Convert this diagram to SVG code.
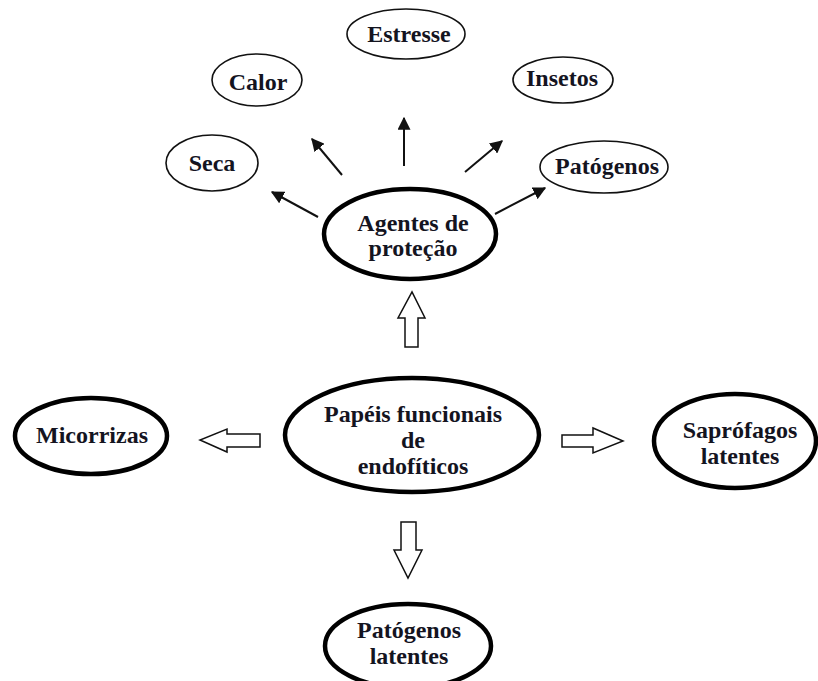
<svg xmlns="http://www.w3.org/2000/svg" width="818" height="681" viewBox="0 0 818 681">
  <style>
    .t { font-family: "Liberation Serif", "DejaVu Serif", serif; font-weight: 700; font-size: 24px; fill: #14141f; text-anchor: middle; }
    .thin { fill: #fff; stroke: #111; stroke-width: 1.6; }
    .thick { fill: #fff; stroke: #000; stroke-width: 4.5; }
    .ln { stroke: #111; stroke-width: 2; fill: none; marker-end: url(#ah); }
    .hollow { fill: #fff; stroke: #111; stroke-width: 1.5; stroke-linejoin: miter; }
  </style>
  <defs>
    <marker id="ah" viewBox="0 0 10 10" refX="9" refY="5" markerWidth="6.5" markerHeight="6.5" orient="auto" markerUnits="strokeWidth">
      <path d="M0,0 L10,5 L0,10 z" fill="#111"/>
    </marker>
  </defs>
  <rect width="818" height="681" fill="#fff"/>

  <g id="connectors">
    <line class="ln" x1="318" y1="217" x2="272" y2="192"/>
    <line class="ln" x1="342" y1="175" x2="312" y2="139"/>
    <line class="ln" x1="404" y1="166" x2="404" y2="118"/>
    <line class="ln" x1="465" y1="172" x2="502" y2="141"/>
    <line class="ln" x1="495" y1="214" x2="545" y2="188"/>
    <path class="hollow" d="M405,347 L405,318 L398,318 L412,292 L425,318 L418,318 L418,347 Z"/>
    <path class="hollow" d="M260,434 L227,434 L227,429 L200,440 L227,452 L227,447 L260,447 Z"/>
    <path class="hollow" d="M562,435 L593,435 L593,428 L623,441 L593,453 L593,447 L562,447 Z"/>
    <path class="hollow" d="M401,522 L416,522 L416,550 L422,550 L408,578 L394,550 L401,550 Z"/>
  </g>

  <g id="estresse">
    <ellipse class="thin" cx="406" cy="34" rx="59" ry="25"/>
    <text class="t" x="409" y="42">Estresse</text>
  </g>
  <g id="calor">
    <ellipse class="thin" cx="257" cy="80" rx="45" ry="26"/>
    <text class="t" x="258" y="90">Calor</text>
  </g>
  <g id="insetos">
    <ellipse class="thin" cx="563" cy="80" rx="50" ry="23"/>
    <text class="t" x="562" y="86">Insetos</text>
  </g>
  <g id="seca">
    <ellipse class="thin" cx="212" cy="163" rx="46" ry="28"/>
    <text class="t" x="212" y="171">Seca</text>
  </g>
  <g id="patogenos">
    <ellipse class="thin" cx="604" cy="167" rx="64" ry="26"/>
    <text class="t" x="607" y="174">Patógenos</text>
  </g>
  <g id="agentes">
    <ellipse class="thick" cx="410" cy="234" rx="86" ry="45"/>
    <text class="t" x="413" y="231">Agentes de</text>
    <text class="t" x="413" y="256">proteção</text>
  </g>
  <g id="papeis">
    <ellipse class="thick" cx="412" cy="435" rx="127" ry="57"/>
    <text class="t" x="413" y="422">Papéis funcionais</text>
    <text class="t" x="413" y="448">de</text>
    <text class="t" x="413" y="474">endofíticos</text>
  </g>
  <g id="micorrizas">
    <ellipse class="thick" cx="91" cy="436" rx="76" ry="38"/>
    <text class="t" x="92" y="443">Micorrizas</text>
  </g>
  <g id="saprofagos">
    <ellipse class="thick" cx="735" cy="441" rx="81" ry="47"/>
    <text class="t" x="740" y="438">Saprófagos</text>
    <text class="t" x="740" y="464">latentes</text>
  </g>
  <g id="patogenos-latentes">
    <ellipse class="thick" cx="408" cy="646" rx="83" ry="42"/>
    <text class="t" x="409" y="638">Patógenos</text>
    <text class="t" x="409" y="664">latentes</text>
  </g>
</svg>
